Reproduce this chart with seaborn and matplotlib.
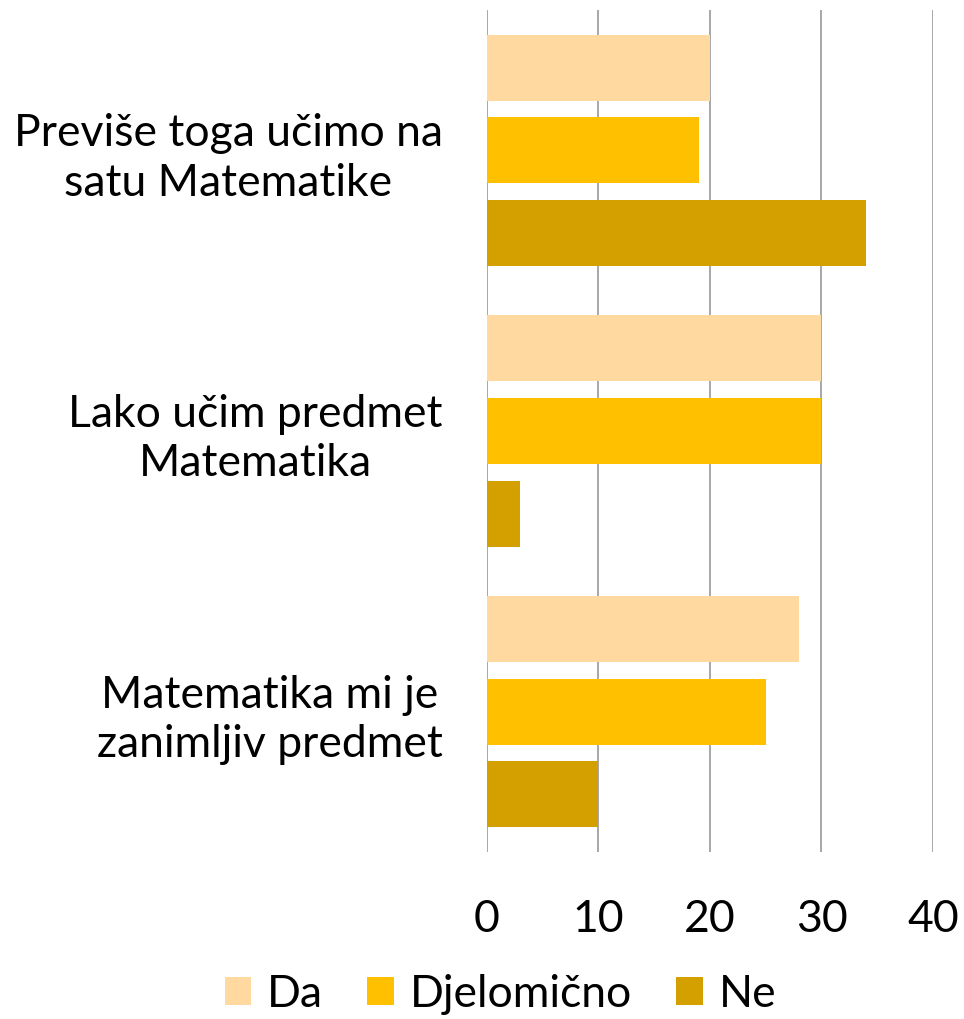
import matplotlib
matplotlib.use("Agg")
import matplotlib.pyplot as plt
import seaborn as sns
import pandas as pd

categories = ["Previše toga učimo na\nsatu Matematike",
              "Lako učim predmet\nMatematika",
              "Matematika mi je\nzanimljiv predmet"]
series = ["Da", "Djelomično", "Ne"]
da = [20, 30, 28]
djelomicno = [19, 30, 25]
ne = [34, 3, 10]
colors = ["#FFD9A0", "#FFC000", "#D4A000"]
xticks = [0, 10, 20, 30, 40]

rows = []
for s, vals in zip(series, [da, djelomicno, ne]):
    for c, v in zip(categories, vals):
        rows.append({"cat": c, "series": s, "value": v})
df = pd.DataFrame(rows)

sns.set_theme(style="white")
plt.rcParams['font.family'] = ['Lato', 'DejaVu Sans']
plt.rcParams['text.color'] = 'black'
plt.rcParams['xtick.color'] = 'black'
plt.rcParams['ytick.color'] = 'black'

fig = plt.figure(figsize=(9.64, 10.19), dpi=100)
ax = fig.add_axes([0.5052, 0.1639, 0.4626, 0.8263])
sns.barplot(data=df, y="cat", x="value", hue="series", order=categories,
            hue_order=series, palette=colors, width=0.883, gap=0.2,
            orient="h", ax=ax, saturation=1, legend=True, linewidth=0)

ax.set_xlim(0, 40)
ax.set_ylim(2.5, -0.5)
ax.set_xticks(xticks)
ax.set_xlabel("")
ax.set_ylabel("")
for sp in ax.spines.values():
    sp.set_visible(False)
ax.grid(axis="x", color="#A0A0A0", linewidth=1.3)
ax.grid(axis="y", visible=False)
ax.set_axisbelow(True)
ax.tick_params(axis="x", length=0, pad=34, labelsize=32, labelcolor="black")
ax.tick_params(axis="y", length=0, pad=32, labelsize=32, labelcolor="black")
for lab in ax.get_yticklabels():
    lab.set_multialignment("center")
    lab.set_linespacing(1.25)

handles, labels = ax.get_legend_handles_labels()
ax.get_legend().remove()
fig.legend(handles, labels, loc="center", bbox_to_anchor=(0.519, 0.024),
           ncol=3, frameon=False, fontsize=32, handlelength=0.6,
           handleheight=0.6, handletextpad=0.35, columnspacing=1.0,
           borderpad=0)

fig.savefig("out.png", dpi=100)
